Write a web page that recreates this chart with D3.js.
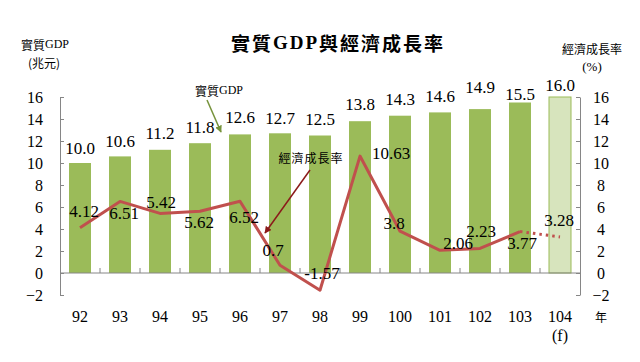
<!DOCTYPE html>
<html>
<head>
<meta charset="utf-8">
<script src="https://cdn.jsdelivr.net/npm/d3@7"></script>
<style>
  html, body { margin: 0; padding: 0; background: #fff; }
  svg { display: block; }
  text { font-family: "Liberation Serif", "Noto Sans CJK TC", serif; fill: #000; }
</style>
</head>
<body>
<svg id="chart" width="640" height="362"></svg>
<script>
// ---------- data ----------
const years = ["92","93","94","95","96","97","98","99","100","101","102","103","104"];
const gdp = [10.0, 10.6, 11.2, 11.8, 12.6, 12.7, 12.5, 13.8, 14.3, 14.6, 14.9, 15.5, 16.0];
const growth = [4.12, 6.51, 5.42, 5.62, 6.52, 0.7, -1.57, 10.63, 3.8, 2.06, 2.23, 3.77, 3.28];
const gdpLabels = ["10.0","10.6","11.2","11.8","12.6","12.7","12.5","13.8","14.3","14.6","14.9","15.5","16.0"];
const growthLabels = ["4.12","6.51","5.42","5.62","6.52","0.7","-1.57","10.63","3.8","2.06","2.23","3.77","3.28"];
const yTicks = [-2, 0, 2, 4, 6, 8, 10, 12, 14, 16];
const forecastIndex = 12;

// ---------- layout ----------
const plot = { left: 60, right: 580, top: 97, bottom: 295 };
const barColor = "#9bbb59", barForecast = "#d7e4bd", lineColor = "#c0504d", axisColor = "#868686";
// label placement adjustments (px) relative to the mark
const gdpLabelDy = [-15,-15,-16,-16,-17,-15,-16,-17,-16,-16,-22,-8,-12];
const growthLabelDx = [4,4,1,-1,4,-7,2,31,-6,18,1,2,-1];
const growthLabelDy = [-16,12,-11,11,16,-15,-17,-3,-8,-7,-17,12,-16];

const svg = d3.select("#chart");

const x = d3.scaleBand().domain(years).range([plot.left, plot.right])
  .paddingInner(0.45).paddingOuter(0.225);
const y = d3.scaleLinear().domain([-2, 16]).range([plot.bottom, plot.top]);
const cx = d => x(d) + x.bandwidth() / 2;

// bars
svg.append("g").selectAll("rect").data(years).join("rect")
  .attr("x", d => x(d))
  .attr("width", x.bandwidth())
  .attr("y", (d, i) => y(gdp[i]))
  .attr("height", (d, i) => y(0) - y(gdp[i]))
  .attr("fill", (d, i) => i === forecastIndex ? barForecast : barColor)
  .attr("stroke", (d, i) => i === forecastIndex ? barColor : "none")
  .attr("stroke-width", 1);

// left axis
const yl = svg.append("g").attr("transform", `translate(${plot.left},0)`)
  .call(d3.axisLeft(y).tickValues(yTicks).tickSizeInner(-4).tickSizeOuter(0).tickPadding(17).tickFormat(d3.format("d")));
yl.selectAll("path,line").attr("stroke", axisColor);
yl.selectAll("text").style("font-family", "Liberation Serif").style("font-size", "16px").attr("fill", "#000");

// right axis
const yr = svg.append("g").attr("transform", `translate(${plot.right},0)`)
  .call(d3.axisRight(y).tickValues(yTicks).tickSizeInner(-4).tickSizeOuter(0).tickPadding(21).tickFormat(d3.format("d")));
yr.selectAll("path,line").attr("stroke", axisColor);
yr.selectAll("text").attr("text-anchor", "middle").style("font-family", "Liberation Serif").style("font-size", "16px").attr("fill", "#000");

// x axis (zero line with category separators)
svg.append("line").attr("x1", plot.left).attr("x2", plot.right)
  .attr("y1", y(0)).attr("y2", y(0)).attr("stroke", axisColor);
svg.append("g").selectAll("line").data(years.slice(0, -1)).join("line")
  .attr("x1", d => cx(d) + x.step() / 2).attr("x2", d => cx(d) + x.step() / 2)
  .attr("y1", y(0)).attr("y2", y(0) - 5).attr("stroke", axisColor);

svg.append("g").selectAll("text").data(years).join("text")
  .attr("x", cx).attr("y", 316).attr("dominant-baseline", "central")
  .attr("text-anchor", "middle").style("font-size", "16px").text(d => d);
svg.append("text").attr("x", cx(years[forecastIndex])).attr("y", 335)
  .attr("dominant-baseline", "central").attr("text-anchor", "middle")
  .style("font-size", "16px").text("(f)");
svg.append("text").attr("x", 601).attr("y", 316).attr("dominant-baseline", "central")
  .attr("text-anchor", "middle").style("font-family", "Noto Sans CJK TC").style("font-size", "12px").text("年");

// line
const pts = years.map((d, i) => [cx(d), y(growth[i])]);
const lineGen = d3.line();
svg.append("path").attr("d", lineGen(pts.slice(0, forecastIndex)))
  .attr("fill", "none").attr("stroke", lineColor).attr("stroke-width", 3)
  .attr("stroke-linejoin", "round");
svg.append("path").attr("d", lineGen(pts.slice(forecastIndex - 1)))
  .attr("fill", "none").attr("stroke", lineColor).attr("stroke-width", 3)
  .attr("stroke-dasharray", "2.5,4");

// bar labels
svg.append("g").selectAll("text").data(years).join("text")
  .attr("x", cx).attr("y", (d, i) => y(gdp[i]) + gdpLabelDy[i])
  .attr("dominant-baseline", "central").attr("text-anchor", "middle")
  .style("font-size", "17px").text((d, i) => gdpLabels[i]);

// growth labels
svg.append("g").selectAll("text").data(years).join("text")
  .attr("x", (d, i) => cx(d) + growthLabelDx[i])
  .attr("y", (d, i) => y(growth[i]) + growthLabelDy[i])
  .attr("dominant-baseline", "central").attr("text-anchor", "middle")
  .style("font-size", "17px").text((d, i) => growthLabels[i]);

// arrows
const defs = svg.append("defs");
function marker(id, color) {
  defs.append("marker").attr("id", id).attr("viewBox", "0 0 10 10")
    .attr("refX", 9).attr("refY", 5).attr("markerWidth", 7).attr("markerHeight", 7)
    .attr("orient", "auto").attr("markerUnits", "userSpaceOnUse")
    .append("path").attr("d", "M0,0 L10,5 L0,10 z").attr("fill", color);
}
marker("ag", "#77933c");
marker("ar", "#8b1a1a");
svg.append("line").attr("x1", 207).attr("y1", 100).attr("x2", 221).attr("y2", 132)
  .attr("stroke", "#77933c").attr("stroke-width", 1.5).attr("marker-end", "url(#ag)");
svg.append("line").attr("x1", 310).attr("y1", 170).attr("x2", 265).attr("y2", 233)
  .attr("stroke", "#8b1a1a").attr("stroke-width", 1.5).attr("marker-end", "url(#ar)");

svg.append("text").attr("x", 219).attr("y", 90).attr("dominant-baseline", "central")
  .attr("text-anchor", "middle").style("font-size", "12px")
  .html('<tspan style="font-family:Noto Sans CJK TC">實質</tspan>GDP');
svg.append("text").attr("x", 311).attr("y", 157).attr("dominant-baseline", "central")
  .attr("text-anchor", "middle").style("font-family", "Noto Sans CJK TC").style("font-size", "12px")
  .attr("letter-spacing", "1").text("經濟成長率");

// titles
svg.append("text").attr("x", 338).attr("y", 42).attr("dominant-baseline", "central")
  .attr("text-anchor", "middle").style("font-size", "19px").style("font-weight", "bold")
  .attr("letter-spacing", "2")
  .html('<tspan style="font-family:Noto Sans CJK TC">實質</tspan>GDP<tspan style="font-family:Noto Sans CJK TC">與經濟成長率</tspan>');
svg.append("text").attr("x", 45).attr("y", 44).attr("dominant-baseline", "central")
  .attr("text-anchor", "middle").style("font-size", "12px")
  .html('<tspan style="font-family:Noto Sans CJK TC">實質</tspan>GDP');
svg.append("text").attr("x", 44).attr("y", 62).attr("dominant-baseline", "central")
  .attr("text-anchor", "middle").style("font-family", "Noto Sans CJK TC").style("font-size", "12px")
  .text("(兆元)");
svg.append("text").attr("x", 592).attr("y", 48).attr("dominant-baseline", "central")
  .attr("text-anchor", "middle").style("font-family", "Noto Sans CJK TC").style("font-size", "12px")
  .text("經濟成長率");
svg.append("text").attr("x", 592).attr("y", 66).attr("dominant-baseline", "central")
  .attr("text-anchor", "middle").style("font-size", "13px")
  .text("(%)");
</script>
</body>
</html>
